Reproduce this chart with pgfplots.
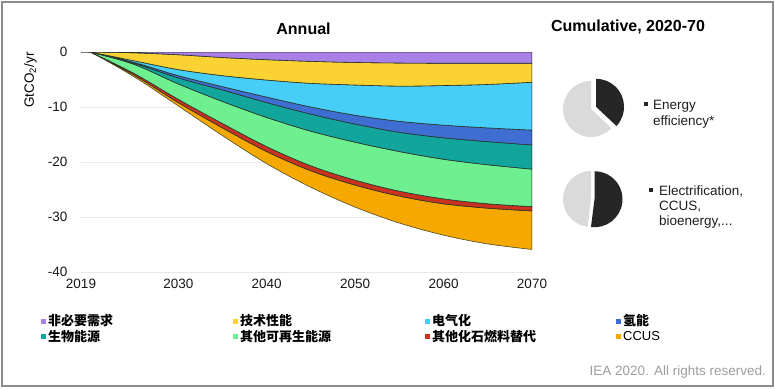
\documentclass[border=0pt]{standalone}
\usepackage{pgfplots}
\pgfplotsset{compat=1.18}
\usepackage{pgfplotstable}
\usepackage{fontspec}
\setmainfont{Liberation Sans}
\newfontfamily\cjk{Noto Sans CJK SC}

\definecolor{cPur}{RGB}{168,128,230}
\definecolor{cYel}{RGB}{250,210,50}
\definecolor{cLb}{RGB}{70,205,248}
\definecolor{cBlu}{RGB}{62,110,210}
\definecolor{cTeal}{RGB}{18,165,155}
\definecolor{cGrn}{RGB}{110,240,145}
\definecolor{cRed}{RGB}{200,50,30}
\definecolor{cOra}{RGB}{245,168,0}
\definecolor{pieGray}{RGB}{218,218,218}
\definecolor{pieDark}{RGB}{38,38,38}
\definecolor{gridc}{RGB}{232,232,232}
\definecolor{edgec}{RGB}{40,50,40}

% layer thicknesses (GtCO2/yr), stacked downward
\pgfplotstableread{
year p y lb b t g r o
2019 0 0 0 0 0 0 0 0
2020 0 0 0 0 0 0 0 0
2025 -0.15 -1.45 -0.30 -0.15 -0.20 -1.65 -0.30 -0.30
2030 -0.50 -2.70 -1.10 -0.40 -1.10 -2.80 -0.60 -0.60
2035 -1.00 -3.30 -2.00 -0.60 -2.10 -4.00 -0.80 -1.40
2040 -1.40 -3.70 -3.10 -1.00 -2.70 -5.30 -0.90 -2.20
2045 -1.70 -4.00 -4.30 -1.30 -3.10 -6.30 -0.90 -3.00
2050 -1.90 -4.10 -5.50 -1.60 -3.30 -6.90 -0.90 -4.00
2055 -2.00 -4.20 -6.40 -2.00 -3.50 -7.20 -0.90 -4.90
2060 -2.05 -4.05 -7.20 -2.30 -3.90 -7.20 -0.90 -5.70
2065 -2.05 -3.85 -7.90 -2.50 -4.20 -7.10 -0.80 -6.50
2070 -2.05 -3.45 -8.70 -2.70 -4.40 -6.80 -0.80 -7.00
}\annual

% cumulative shares (percent of the dark slice)
\def\pieA{37}
\def\pieB{52}

\begin{document}
\begin{tikzpicture}[x=1pt,y=1pt]
\useasboundingbox (0,0) rectangle (775,388);
\fill[white] (0,0) rectangle (775,388);
\draw[black!45, line width=2pt] (2,2) rectangle (773,386);

\begin{axis}[
  at={(81pt,116pt)}, anchor=south west,
  scale only axis, width=451pt, height=220pt,
  xmin=2019, xmax=2070, ymin=-40, ymax=0,
  stack plots=y,
  axis line style={draw=none},
  major tick style={draw=none},
  xtick={2019,2030,2040,2050,2060,2070},
  ytick={-40,-30,-20,-10,0},
  ymajorgrids, grid style={gridc, line width=1pt},
  /pgf/number format/1000 sep={},
  /pgf/number format/assume math mode=true,
  ticklabel style={font=\fontsize{13.5}{16}\selectfont, text=black!90},
  yticklabel style={xshift=-10pt},
  xticklabel style={yshift=-4pt},
  legend columns=4,
  legend cell align=left,
  legend style={draw=none, fill=none, inner sep=0pt,
    at={(axis description cs:-0.0887,-0.184)}, anchor=north west,
    font=\fontsize{13}{15}\selectfont,
    nodes={inner sep=2pt},
    row sep=-1pt,
    /tikz/every even column/.append style={column sep=0pt}},
  legend image code/.code={\fill[#1,draw=none] (0pt,-2.5pt) rectangle (5pt,2.5pt);},
  every axis plot/.append style={smooth, tension=0.55, line width=0.6pt},
]
\addplot[fill=cPur, draw=edgec] table[x=year,y=p]{\annual} \closedcycle;
\addlegendentry{\makebox[183pt][l]{\cjk\bfseries 非必要需求}}
\addplot[fill=cYel, draw=edgec] table[x=year,y=y]{\annual} \closedcycle;
\addlegendentry{\makebox[183pt][l]{\cjk\bfseries 技术性能}}
\addplot[fill=cLb, draw=edgec] table[x=year,y=lb]{\annual} \closedcycle;
\addlegendentry{\makebox[182pt][l]{\cjk\bfseries 电气化}}
\addplot[fill=cBlu, draw=edgec] table[x=year,y=b]{\annual} \closedcycle;
\addlegendentry{\makebox[130pt][l]{\cjk\bfseries 氢能}}
\addplot[fill=cTeal, draw=edgec] table[x=year,y=t]{\annual} \closedcycle;
\addlegendentry{\makebox[183pt][l]{\cjk\bfseries 生物能源}}
\addplot[fill=cGrn, draw=edgec] table[x=year,y=g]{\annual} \closedcycle;
\addlegendentry{\makebox[183pt][l]{\cjk\bfseries 其他可再生能源}}
\addplot[fill=cRed, draw=edgec] table[x=year,y=r]{\annual} \closedcycle;
\addlegendentry{\makebox[182pt][l]{\cjk\bfseries 其他化石燃料替代}}
\addplot[fill=cOra, draw=edgec!80!cOra] table[x=year,y=o]{\annual} \closedcycle;
\addlegendentry{\makebox[130pt][l]{CCUS}}
\end{axis}

% titles and axis label
\node[font=\fontsize{16}{19}\selectfont\bfseries] at (303.5,359.5) {Annual};
\node[font=\fontsize{16}{19}\selectfont\bfseries] at (628,361.5) {Cumulative, 2020-70};
\node[rotate=90, font=\fontsize{13.5}{16}\selectfont] at (30.5,308) {GtCO\textsubscript{2}/yr};

% pie 1: energy efficiency
\pgfmathsetmacro\aA{90-3.6*\pieA}
\pgfmathsetmacro\mA{(90+\aA)/2}
\fill[pieGray] (591,279) -- ++(90:28) arc[start angle=90, end angle={\aA+360}, radius=28] -- cycle;
\fill[pieDark, shift={(\mA:5.5)}] (591,279) -- ++(\aA:28) arc[start angle=\aA, end angle=90, radius=28] -- cycle;
% pie 2: electrification, CCUS, bioenergy, ...
\pgfmathsetmacro\aB{90-3.6*\pieB}
\pgfmathsetmacro\mB{(90+\aB)/2}
\fill[pieGray] (591,189) -- ++(90:28) arc[start angle=90, end angle={\aB+360}, radius=28] -- cycle;
\fill[pieDark, shift={(\mB:3.5)}] (591,189) -- ++(\aB:28) arc[start angle=\aB, end angle=90, radius=28] -- cycle;

% pie legends
\fill[pieDark] (644,281.5) rectangle (648,285.5);
\fill[pieDark] (649,196) rectangle (653,200);
\begin{scope}[every node/.style={anchor=base west, inner sep=0pt, font=\fontsize{13.5}{16}\selectfont, text=black!88}]
\node at (653,278) {Energy};
\node at (653,262) {efficiency*};
\node at (659,192) {Electrification,};
\node at (659,177) {CCUS,};
\node at (659,162) {bioenergy,...};
\end{scope}

\node[anchor=base east, inner sep=0pt, font=\fontsize{13.5}{16}\selectfont, text=black!38] at (766,13) {IEA 2020. All rights reserved.};
\end{tikzpicture}
\end{document}
